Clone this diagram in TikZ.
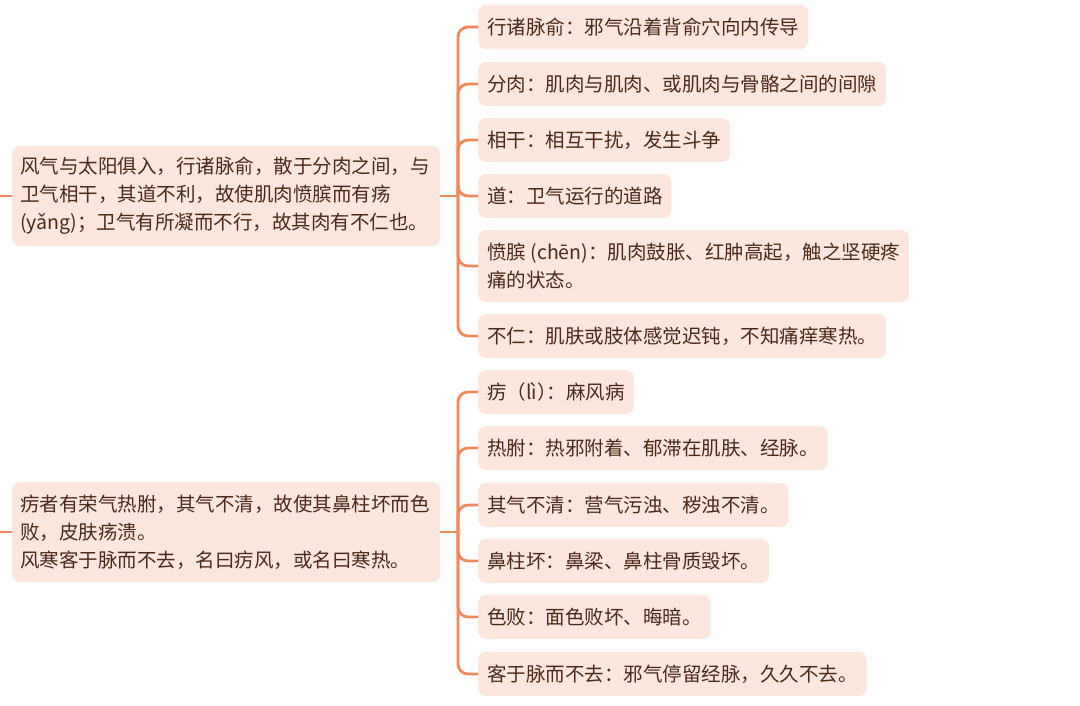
\documentclass[tikz,border=0pt]{standalone}
\usepackage{fontspec}
\setmainfont{Noto Sans CJK SC}
\usetikzlibrary{positioning}
\definecolor{linkorange}{HTML}{F2875A}
\definecolor{boxpeach}{HTML}{FDE6DD}
\definecolor{textbrown}{HTML}{4A2A1A}
\tikzset{
    % Passage boxes on the left
    main box/.style={rectangle, rounded corners=8pt, fill=boxpeach, text=textbrown,
        font=\fontsize{19.5pt}{28pt}\selectfont, align=left, anchor=west,
        inner xsep=8pt, text width=412pt, minimum height=100pt},
    % Note boxes on the right
    note box/.style={rectangle, rounded corners=8pt, fill=boxpeach, text=textbrown,
        font=\fontsize{19.5pt}{28pt}\selectfont, align=left, anchor=west,
        inner xsep=9pt, minimum height=44pt},
    % Branch lines
    link/.style={draw=linkorange, line width=2.8pt, rounded corners=10pt}
}

\begin{document}
\begin{tikzpicture}[x=1pt, y=-1pt]
    \useasboundingbox (0,0) rectangle (1080,706);

    % --- First passage ---
    \node[main box] (main1) at (12,196)
        {风气与太阳俱入，行诸脉俞，散于分肉之间，与\\卫气相干，其道不利，故使肌肉愤膑而有疡\\(yǎng)；卫气有所凝而不行，故其肉有不仁也。};

    \node[note box] (mainA1) at (478,27)  {行诸脉俞：邪气沿着背俞穴向内传导};
    \node[note box] (mainA2) at (478,84)  {分肉：肌肉与肌肉、或肌肉与骨骼之间的间隙};
    \node[note box] (mainA3) at (478,140) {相干：相互干扰，发生斗争};
    \node[note box] (mainA4) at (478,196) {道：卫气运行的道路};
    \node[note box, minimum height=72pt] (mainA5) at (478,266)
        {愤膑 (chēn)：肌肉鼓胀、红肿高起，触之坚硬疼\\痛的状态。};
    \node[note box] (mainA6) at (478,336) {不仁：肌肤或肢体感觉迟钝，不知痛痒寒热。};

    % --- Second passage ---
    \node[main box] (main2) at (12,532)
        {疠者有荣气热胕，其气不清，故使其鼻柱坏而色\\败，皮肤疡溃。\\风寒客于脉而不去，名曰疠风，或名曰寒热。};

    \node[note box] (mainB1) at (478,392) {疠（lì）\kern-0.5em：麻风病};
    \node[note box] (mainB2) at (478,448) {热胕：热邪附着、郁滞在肌肤、经脉。};
    \node[note box] (mainB3) at (478,505) {其气不清：营气污浊、秽浊不清。};
    \node[note box] (mainB4) at (478,561) {鼻柱坏：鼻梁、鼻柱骨质毁坏。};
    \node[note box] (mainB5) at (478,617) {色败：面色败坏、晦暗。};
    \node[note box] (mainB6) at (478,674) {客于脉而不去：邪气停留经脉，久久不去。};

    % --- Branch lines ---
    \coordinate (stub1) at (0,196);
    \coordinate (stub2) at (0,532);
    \coordinate (fork1) at (458,196);
    \coordinate (fork2) at (458,532);

    \draw[link] (stub1) -- (main1.west);
    \draw[link] (stub2) -- (main2.west);
    \draw[link] (main1.east) -- (fork1);
    \draw[link] (main2.east) -- (fork2);
    \foreach \i in {1,...,6} {
        \draw[link] (fork1) |- (mainA\i.west);
        \draw[link] (fork2) |- (mainB\i.west);
    }
\end{tikzpicture}
\end{document}
